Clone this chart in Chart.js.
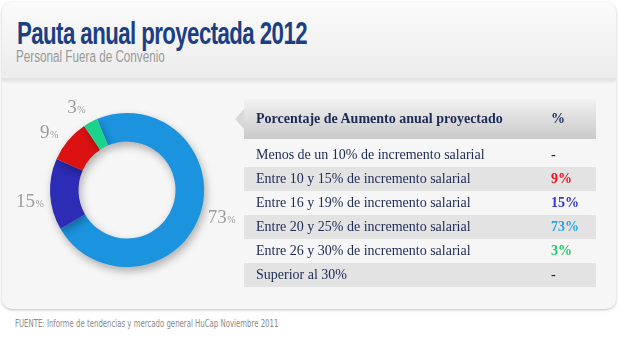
<!DOCTYPE html>
<html>
<head>
<meta charset="utf-8">
<script src="https://cdn.jsdelivr.net/npm/chart.js@4"></script>
<style>
  body { margin: 0; background: #fff; width: 620px; height: 339px; overflow: hidden; position: relative; font-family: "Liberation Serif", serif; }
  .panel { position: absolute; left: 2px; top: 2px; width: 614px; height: 307px; border-radius: 10px;
    background: #f6f6f6; box-shadow: 0 1px 3px rgba(0,0,0,0.25); overflow: hidden; }
  .head { position: absolute; left: 0; top: 0; width: 614px; height: 76px;
    background: linear-gradient(#fbfbfb, #ececec); border-bottom: 2px solid #e2e2e2; box-shadow: 0 2px 3px rgba(0,0,0,0.08); }
  .title { position: absolute; left: 15px; top: 14px; font: bold 31px "Liberation Sans", sans-serif;
    color: #1b3f82; letter-spacing: -0.8px; white-space: nowrap; transform-origin: 0 0; }
  .sub { position: absolute; left: 14px; top: 46px; font: 16px "Liberation Sans", sans-serif; color: #9a9a9a; white-space: nowrap; transform-origin: 0 0; }
  #chartBox { position: absolute; left: 0; top: 85px; width: 254px; height: 210px; }
  table { position: absolute; left: 244px; top: 99px; width: 352px; border-collapse: collapse; color: #1c2a55; font-size: 14px; }
  th { height: 40px; text-align: left; font-weight: bold; background: linear-gradient(#f2f2f2, #c9c9c9); padding: 0 0 0 12px; }
  tr.gap td { height: 4px; padding: 0; }
  td { height: 24px; padding: 0 0 0 12px; }
  tr.alt td { background: #e3e3e3; }
  th.v, td.v { width: 45px; padding-left: 0; }
  td.v { font-weight: bold; }
  .notch { position: absolute; left: 235px; top: 109px; width: 0; height: 0; border-top: 10px solid transparent; border-bottom: 10px solid transparent; border-right: 9px solid #d8d8d8; }
  .src { position: absolute; left: 15px; top: 318px; font: 10px "DejaVu Sans Condensed", "DejaVu Sans", sans-serif; color: #8a8a8a; white-space: nowrap; transform-origin: 0 0; }
</style>
</head>
<body>
<div class="panel">
  <div class="head">
    <div class="title" data-w="290">Pauta anual proyectada 2012</div>
    <div class="sub" data-w="149">Personal Fuera de Convenio</div>
  </div>
</div>
<div id="chartBox"><canvas id="donut"></canvas></div>
<div class="notch"></div>
<table id="tbl"></table>
<div class="src" data-w="263">FUENTE: Informe de tendencias y mercado general HuCap Noviembre 2011</div>
<script>
// donut slices, clockwise from the top
const sliceLabels = ['Entre 20 y 25%', 'Entre 16 y 19%', 'Entre 10 y 15%', 'Entre 26 y 30%'];
const sliceValues = [73, 15, 9, 3];
const sliceColors = ['#1b93df', '#2c2cb6', '#dc1212', '#1bd38b'];

// table rows
const rangeLabels = [
  'Menos de un 10% de incremento salarial',
  'Entre 10 y 15% de incremento salarial',
  'Entre 16 y 19% de incremento salarial',
  'Entre 20 y 25% de incremento salarial',
  'Entre 26 y 30% de incremento salarial',
  'Superior al 30%'
];
const rangeShares = [null, 9, 15, 73, 3, null];
const shareColors = ['#1c2a55', '#e8101a', '#3434cc', '#2aa2e6', '#22c86a', '#1c2a55'];

const tbl = document.getElementById('tbl');
tbl.innerHTML = '<tr><th>Porcentaje de Aumento anual proyectado</th><th class="v">%</th></tr><tr class="gap"><td></td><td></td></tr>' +
  rangeLabels.map((r, i) =>
    `<tr class="${i % 2 ? 'alt' : ''}"><td>${r}</td><td class="v" style="color:${shareColors[i]}">${rangeShares[i] == null ? '-' : rangeShares[i] + '%'}</td></tr>`
  ).join('');

// squeeze the condensed-looking texts to their widths in the picture
document.querySelectorAll('[data-w]').forEach((el) => {
  el.style.transform = `scaleX(${el.dataset.w / el.offsetWidth})`;
});

const shadowPlugin = {
  id: 'shadow',
  beforeDatasetsDraw(chart) {
    const ctx = chart.ctx;
    ctx.save();
    ctx.shadowColor = 'rgba(0,0,0,0.3)';
    ctx.shadowBlur = 8;
    ctx.shadowOffsetX = 2;
    ctx.shadowOffsetY = 4;
  },
  afterDatasetsDraw(chart) {
    chart.ctx.restore();
  }
};

const outLabels = {
  id: 'outLabels',
  afterDatasetsDraw(chart) {
    const ctx = chart.ctx;
    chart.getDatasetMeta(0).data.forEach((arc, i) => {
      const mid = (arc.startAngle + arc.endAngle) / 2 - 0.05;
      const r = arc.outerRadius + 21;
      const x = arc.x + Math.cos(mid) * r;
      const y = arc.y + Math.sin(mid) * r;
      const num = String(sliceValues[i]);
      ctx.save();
      ctx.fillStyle = '#9c9c9c';
      ctx.textBaseline = 'middle';
      ctx.font = '19px "Liberation Serif", serif';
      const w1 = ctx.measureText(num).width;
      ctx.font = '10px "Liberation Serif", serif';
      const w2 = ctx.measureText('%').width;
      const x0 = x - (w1 + w2) / 2;
      ctx.textBaseline = 'alphabetic';
      ctx.font = '19px "Liberation Serif", serif';
      ctx.fillText(num, x0, y + 7);
      ctx.font = '10px "Liberation Serif", serif';
      ctx.fillText('%', x0 + w1 + 0.5, y + 7);
      ctx.restore();
    });
  }
};

new Chart(document.getElementById('donut'), {
  type: 'doughnut',
  data: {
    labels: sliceLabels,
    datasets: [{ data: sliceValues, backgroundColor: sliceColors, borderWidth: 0 }]
  },
  options: {
    responsive: true,
    maintainAspectRatio: false,
    animation: false,
    rotation: -23,
    cutout: '63%',
    layout: { padding: { left: 50, right: 50, top: 28, bottom: 28 } },
    plugins: { legend: { display: false }, tooltip: { enabled: false } }
  },
  plugins: [shadowPlugin, outLabels]
});
</script>
</body>
</html>
